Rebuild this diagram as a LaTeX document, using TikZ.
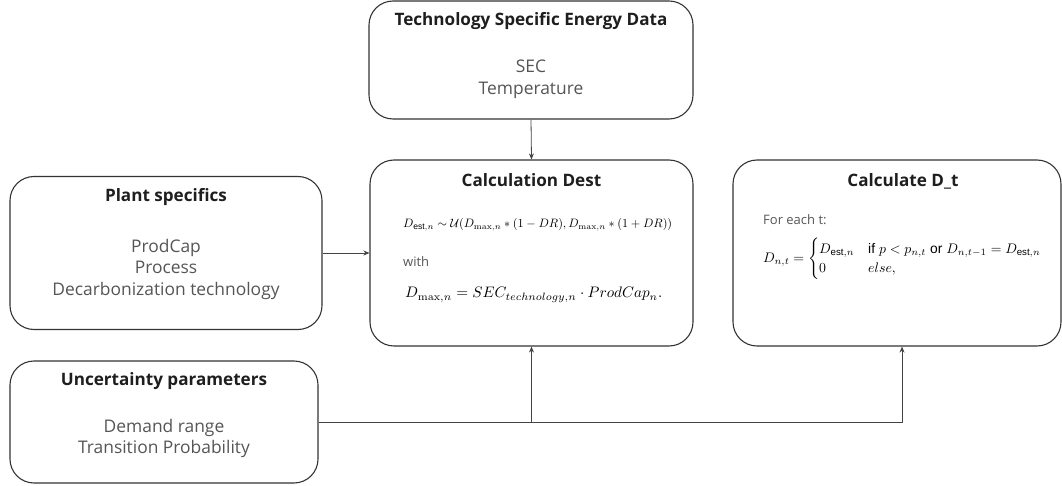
\documentclass[tikz,border=0pt]{standalone}
\usepackage{amsmath}
\usepackage{graphicx}
\usepackage[no-math]{fontspec}
\setmainfont{Open Sans}
\newfontfamily\labelsans{Liberation Sans}
\usetikzlibrary{arrows.meta,calc}
\definecolor{edgeink}{HTML}{333333}
\definecolor{titleink}{HTML}{1E1E1E}
\definecolor{bodyink}{HTML}{555555}
\definecolor{linkink}{HTML}{444444}
\newcommand{\estsub}{\text{\labelsans est}}
\newcommand{\sanswd}[1]{\text{\labelsans #1}}

\begin{document}
\begin{tikzpicture}[x=1pt,y=-1pt,
  panel/.style={draw=edgeink, line width=1.1pt, rounded corners=24pt,
    inner sep=0pt, fill=none},
  heading/.style={text=titleink, font=\fontsize{17.1}{20}\selectfont\bfseries,
    inner sep=0pt, anchor=base},
  item/.style={text=bodyink, font=\fontsize{17.4}{20}\selectfont,
    inner sep=0pt, anchor=base},
  note/.style={text=bodyink, font=\fontsize{13}{16}\selectfont,
    inner sep=0pt, anchor=base west},
  formula/.style={inner sep=0pt},
  link/.style={draw=linkink, line width=0.8pt,
    -{Stealth[length=6pt,width=5pt]}}]

\useasboundingbox (0,0) rectangle (1062,486);

% boxes
\node[panel, minimum width=324pt, minimum height=118pt] (tech) at (531,60) {};
\node[panel, minimum width=323pt, minimum height=186pt] (calc) at (531.5,253) {};
\node[panel, minimum width=328pt, minimum height=186pt] (dt) at (897,253) {};
\node[panel, minimum width=312pt, minimum height=153pt] (plant) at (166,253) {};
\node[panel, minimum width=308pt, minimum height=122pt] (unc) at (164,422) {};

% technology data
\node[heading] (techT) at (531,26) {Technology Specific Energy Data};
\node[item] (techA) at (531,72.7) {SEC};
\node[item] (techB) at (531,95) {Temperature};

% plant specifics
\node[heading] (plantT) at (166,202) {Plant specifics};
\node[item] (plantA) at (166,252) {ProdCap};
\node[item] (plantB) at (166,273.5) {Process};
\node[item] (plantC) at (166,295) {Decarbonization technology};

% uncertainty parameters
\node[heading] (uncT) at (164,385) {Uncertainty parameters};
\node[item] (uncA) at (164,432) {Demand range};
\node[item] (uncB) at (164,453.5) {Transition Probability};

% calculation of D_est
\node[heading] (calcT) at (531.5,187) {Calculation Dest};
\node[formula, anchor=base west] (calcF1) at (403,228)
  {\resizebox{269pt}{!}{$D_{\estsub,n} \sim \mathcal{U}(D_{\max,n} * (1-DR), D_{\max,n} * (1+DR))$}};
\node[note] (calcW) at (403,266.5) {with};
\node[formula, anchor=base west] (calcF2) at (405,298)
  {\resizebox{257pt}{!}{$D_{\max,n} = SEC_{technology,n} \cdot ProdCap_{n}.$}};

% calculation of D_t
\node[heading] (dtT) at (903,187) {Calculate D\_t};
\node[note] (dtN) at (763,225) {For each t:};
\node[formula, anchor=west] (dtF) at (763,259)
  {\resizebox{279pt}{!}{$D_{n,t} = \begin{cases} D_{\estsub,n} & \sanswd{if } p < p_{n,t} \sanswd{ or } D_{n,t-1} = D_{\estsub,n}\\ 0 & else, \end{cases}$}};

% connectors
\coordinate (dtIn) at ([xshift=5pt]dt.south);
\draw[link] (tech.south) -- (calc.north);
\draw[link] (plant.east) -- (calc.west);
\draw[link] (unc.east) -| (calc.south);
\draw[link] (unc.east) -| (dtIn);
\end{tikzpicture}
\end{document}
